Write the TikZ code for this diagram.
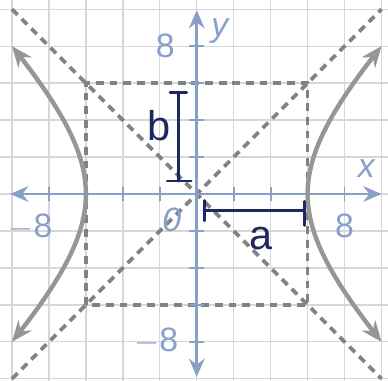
\documentclass[tikz,border=0pt]{standalone}
\usepackage{fontspec}
\setmainfont{Liberation Sans}
\usetikzlibrary{arrows.meta}
\definecolor{axisblue}{RGB}{135,160,200}
\definecolor{curvegray}{RGB}{150,150,150}
\definecolor{dashgray}{RGB}{130,130,130}
\definecolor{inkblue}{RGB}{30,40,95}
\definecolor{gridgray}{RGB}{215,215,215}

\begin{document}
\begin{tikzpicture}[x=0.5cm,y=0.5cm,
  gridline/.style={gridgray,line width=1pt},
  axis/.style={axisblue,line width=2.2pt,{Stealth[length=14pt,width=12pt]}-{Stealth[length=14pt,width=12pt]}},
  axtick/.style={axisblue,line width=1.4pt},
  guide/.style={dashgray,line width=2.8pt,dash pattern=on 6pt off 4.5pt},
  branch/.style={curvegray,line width=3.4pt,{Stealth[length=16pt,width=13pt]}-{Stealth[length=16pt,width=13pt]}},
  ink/.style={inkblue,line width=2.2pt,line cap=round},
  numlabel/.style={axisblue,font=\fontsize{26}{28}\selectfont,inner sep=0pt},
  handlabel/.style={inkblue,font=\fontsize{32}{34}\selectfont,inner sep=0pt}]
\useasboundingbox (-10.65,-10.1) rectangle (10.35,10.5);
\foreach \g in {-10,-8,...,10}{
  \draw[gridline] (\g,-10.1) -- (\g,10.5);
  \draw[gridline] (-10.65,\g) -- (10.35,\g);
}
% asymptotes and box
\draw[guide] (-10,-10) -- (10,10);
\draw[guide] (-10,10) -- (10,-10);
\draw[guide] (-6,-6) rectangle (6,6);
% axes
\coordinate (xl) at (-10.1,0);
\coordinate (xr) at (10,0);
\coordinate (yb) at (0,-9.9);
\coordinate (yt) at (0,9.95);
\draw[axis] (xl) -- (xr);
\draw[axis] (yb) -- (yt);
\foreach \t in {-8,-6,-4,-2,2,4,6,8}{
  \draw[axtick] (\t,-0.4) -- (\t,0.4);
  \draw[axtick] (-0.4,\t) -- (0.4,\t);
}
\node[numlabel] (lx8) at (8,-1.75) {8};
\node[numlabel,anchor=east] (lxm8) at (-7.8,-1.8) {$-$8};
\node[numlabel] (ly8) at (-1.7,8) {8};
\node[numlabel,anchor=east] (lym8) at (-1,-7.95) {$-$8};
\node[numlabel] (lorig) at (-1.35,-1.4) {\textit{0}};
\node[numlabel] (lxname) at (9.2,1.4) {\textit{x}};
\node[numlabel] (lyname) at (1.3,8.8) {\textit{y}};
% branches
\draw[branch] plot[variable=\t,domain=-8:8,samples=41,smooth] ({sqrt(36+\t*\t)},\t);
\draw[branch] plot[variable=\t,domain=-8:8,samples=41,smooth] ({-sqrt(36+\t*\t)},\t);
% hand marks
\coordinate (bbot) at (-1,0.7);
\coordinate (btop) at (-1,5.5);
\draw[ink] (bbot) -- (btop);
\draw[ink] (btop) ++(-0.45,0) -- ++(0.9,0);
\draw[ink] (bbot) ++(-0.6,0) -- ++(1.3,0);
\node[handlabel] (lb) at (-2.05,3.7) {b};
\coordinate (aleft) at (0.4,-0.9);
\coordinate (aright) at (5.85,-0.9);
\draw[ink] (aleft) -- (aright);
\draw[ink] (aleft) ++(0,0.55) -- ++(0,-1.1);
\draw[ink] (aright) ++(0,0.5) -- ++(0,-1.3);
\node[handlabel] (la) at (3.46,-2.4) {a};
\end{tikzpicture}
\end{document}
